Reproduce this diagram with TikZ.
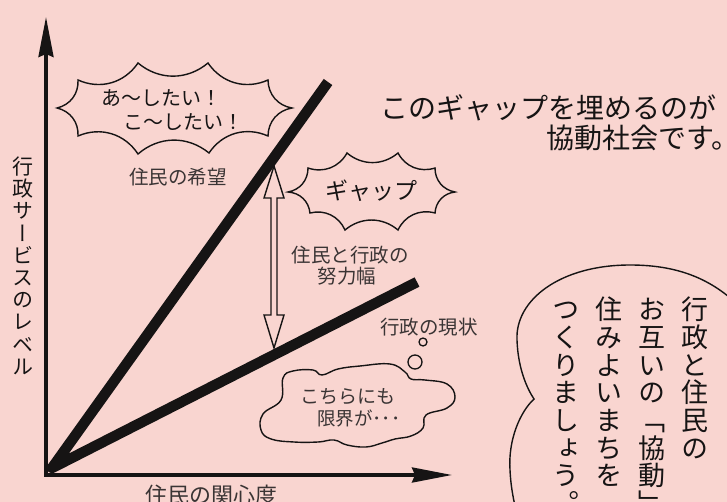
\documentclass[tikz,border=0pt]{standalone}
\usepackage{fontspec}
\newfontfamily\jp{Noto Sans CJK JP}
\newfontfamily\jpv[RawFeature=+vert]{Noto Sans CJK JP}
\usetikzlibrary{arrows.meta}
\definecolor{bg}{RGB}{249,213,208}
\definecolor{inkc}{RGB}{22,20,20}
\definecolor{lblc}{RGB}{58,52,52}
\newcommand\jfs[1]{\jp\fontsize{#1}{#1}\selectfont}
% vertical column: name, x, top, pitch, size, list of characters
\newcommand\vcol[6]{%
  \foreach \ch [count=\i] in {#6} {%
    \node[vchar, font=\jpv\fontsize{#5}{#5}\selectfont] (#1-\i) at (#2, {#3+(\i-1)*#4+0.88*#5}) {\ch};}}
\tikzset{
  vchar/.style={anchor=base, inner sep=0pt, text=inkc},
  axisline/.style={line width=3.2pt, draw=inkc, line join=miter,
    {Stealth[length=40pt,width=15pt,inset=3pt]}-{Stealth[length=40pt,width=15pt,inset=3pt]}},
  mainline/.style={line width=10.5pt, draw=inkc, line join=round, line cap=butt},
  outline/.style={draw=inkc, line width=1.4pt, line join=miter},
  lbl/.style={inner sep=0pt, text=lblc},
  say/.style={inner sep=0pt, text=inkc},
}
\begin{document}
\begin{tikzpicture}[x=1pt,y=-1pt]
\useasboundingbox (0,0) rectangle (727,502);
\clip (0,0) rectangle (727,502);
\fill[bg] (0,0) rectangle (727,502);

% axes
\coordinate (O) at (46,475);
\coordinate (ytip) at (46,17);
\coordinate (xtip) at (452,475);
\draw[axisline] (ytip) -- (O) -- (xtip);

% main lines
\coordinate (V) at (52,468);
\coordinate (hopeEnd) at (328,82);
\coordinate (nowEnd) at (417,282);
\draw[mainline] (nowEnd) -- (V) -- (hopeEnd);

% gap double arrow
\draw[outline, fill=bg] (274,166) -- (284,198) -- (277,198) -- (277,315) -- (284,315)
  -- (274,348) -- (264,315) -- (271,315) -- (271,198) -- (264,198) -- cycle;

% burst 1
\draw[outline, fill=bg] (57,108) to[bend right=40] (78,80) to[bend right=40] (138,63)
  to[bend right=40] (208,63) to[bend right=40] (268,80) to[bend right=40] (292,108)
  to[bend right=40] (268,136) to[bend right=40] (209,153) to[bend right=40] (138,154)
  to[bend right=40] (78,136) to[bend right=40] cycle;
\node[say, anchor=west, font=\jfs{20}] (wish1) at (101,98) {あ〜したい！};
\node[say, anchor=west, font=\jfs{20}] (wish2) at (123,122) {こ〜したい！};

% burst 2
\draw[outline, fill=bg] (288,192) to[bend right=40] (308,168) to[bend right=40] (347,153)
  to[bend right=40] (398,153) to[bend right=40] (435,168) to[bend right=40] (455,192)
  to[bend right=40] (435,213) to[bend right=40] (398,230) to[bend right=40] (345,230)
  to[bend right=40] (310,213) to[bend right=40] cycle;
\node[say, font=\jfs{23}] (gap) at (371,191) {ギャップ};

% labels
\node[lbl, font=\jfs{19.5}] (hope) at (178,177) {住民の希望};
\node[lbl, font=\jfs{19.5}] (eff1) at (350,255) {住民と行政の};
\node[lbl, font=\jfs{19.5}] (eff2) at (347,276) {努力幅};
\node[lbl, font=\jfs{19.5}] (now) at (429,327) {行政の現状};

% thought bubbles and cloud
\draw[outline, line width=1.3pt] (423,342) circle (4);
\draw[outline, line width=1.3pt] (415,362) circle (7);
\draw[outline, fill=bg] plot[smooth cycle, tension=0.7] coordinates {
  (283,378) (293,371) (313,370) (322,375) (338,369) (360,366) (390,364) (405,372)
  (411,379) (425,380) (447,384) (455,397) (447,408) (426,415) (423,428) (411,436)
  (395,439) (382,443) (366,447) (347,445) (334,440) (318,442) (294,442) (271,439)
  (261,430) (263,414) (281,400)};
\node[lbl, font=\jfs{19}] (lim1) at (348,397) {こちらにも};
\node[lbl, font=\jfs{18.5}, anchor=west] (lim2) at (317,418) {限界が･･･};

% statement
\node[say, anchor=west, font=\jfs{28}] (st1) at (380,108) {このギャップを埋めるのが};
\node[say, anchor=west, font=\jfs{28}] (st2) at (546,138) {協動社会です。\kern-0.6em};

% speech balloon
\draw[outline] (745,312) .. controls (715,280) and (680,265) .. (630,265)
  .. controls (560,265) and (515,300) .. (517,340)
  .. controls (518,370) and (528,390) .. (534,399)
  .. controls (520,412) and (508,440) .. (510,470)
  .. controls (511,490) and (514,500) .. (516,512);

% vertical texts
\vcol{ya}{23}{156}{22.2}{21}{行,政,サ,ー,ビ,ス,の,レ,ベ,ル}
\vcol{c1}{695}{296}{27.7}{27}{行,政,と,住,民,の}
\vcol{c2}{652}{296}{27.7}{27}{お,互,い,の,「,協,動,」}
\vcol{c3}{609}{296}{27.7}{27}{住,み,よ,い,ま,ち,を}
\vcol{c4}{566}{296}{27.7}{27}{つ,く,り,ま,し,ょ,う,。}

% x label
\node[lbl, anchor=base, font=\jfs{22}] (xl) at (211,503) {住民の関心度};
\end{tikzpicture}
\end{document}
